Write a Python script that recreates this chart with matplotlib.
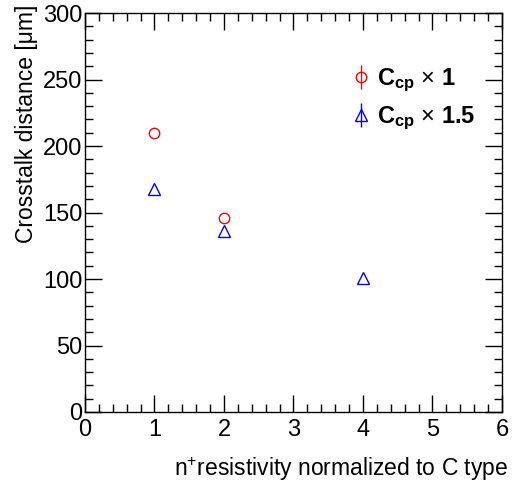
import matplotlib
matplotlib.use("Agg")
import matplotlib.pyplot as plt
from matplotlib.ticker import MultipleLocator

plt.rcParams["font.family"] = ["Liberation Sans", "DejaVu Sans"]
plt.rcParams["mathtext.fontset"] = "custom"
plt.rcParams["mathtext.rm"] = "Liberation Sans"
plt.rcParams["mathtext.it"] = "Liberation Sans:italic"
plt.rcParams["mathtext.bf"] = "Liberation Sans:bold"

# values
x_cp1 = [1, 2]
y_cp1 = [210, 146]
x_cp15 = [1, 2, 4]
y_cp15 = [168, 136, 101]

label_cp1 = r"C$_{\mathbf{cp}}$ $\times$ 1"
label_cp15 = r"C$_{\mathbf{cp}}$ $\times$ 1.5"


def main():
    fig = plt.figure(figsize=(5.23, 4.83), dpi=100)
    ax = fig.add_axes([0.1625, 0.147, 0.7973, 0.826])

    ax.errorbar(x_cp1, y_cp1, yerr=[0] * len(x_cp1), fmt="o", ms=7.5, mfc="none",
                mec="red", mew=1.0, ecolor="red", elinewidth=1.0, capsize=0,
                label=label_cp1)
    ax.errorbar(x_cp15, y_cp15, yerr=[0] * len(x_cp15), fmt="^", ms=8, mfc="none",
                mec="blue", mew=1.0, ecolor="blue", elinewidth=1.0, capsize=0,
                label=label_cp15)

    ax.set_xlim(0, 6)
    ax.set_ylim(0, 300)
    ax.xaxis.set_major_locator(MultipleLocator(1))
    ax.xaxis.set_minor_locator(MultipleLocator(0.2))
    ax.yaxis.set_major_locator(MultipleLocator(50))
    ax.yaxis.set_minor_locator(MultipleLocator(10))
    ax.tick_params(which="both", direction="in", top=True, right=True,
                   labelsize=17, width=1.0)
    ax.tick_params(which="major", length=12)
    ax.tick_params(which="minor", length=6)
    ax.tick_params(axis="x", pad=5)
    ax.tick_params(axis="y", pad=2)
    for s in ax.spines.values():
        s.set_linewidth(1.0)

    ax.set_xlabel(r"n$^{+}$resistivity normalized to C type", fontsize=16.5,
                  loc="right")
    ax.xaxis.set_label_coords(1.015, -0.107)
    ax.set_ylabel("Crosstalk distance [\u03bcm]", fontsize=16.5, loc="top")
    ax.yaxis.set_label_coords(-0.113, 1.02)

    ax.legend(loc="upper left", bbox_to_anchor=(0.639, 0.865), frameon=False,
              prop={"weight": "bold", "size": 17}, handlelength=0.8,
              handletextpad=0.3, labelspacing=0.45, borderpad=0, borderaxespad=0)

    fig.savefig("out.png", dpi=100)
    plt.close(fig)


if __name__ == "__main__":
    main()
